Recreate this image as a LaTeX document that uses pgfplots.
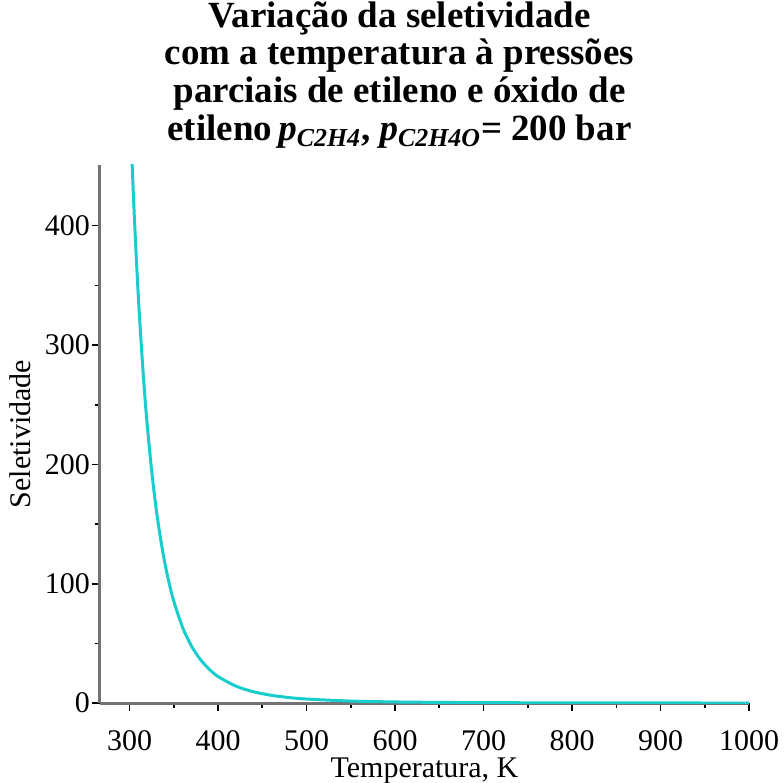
\documentclass[border=0pt]{standalone}
\usepackage{fontspec}
\setmainfont{Liberation Serif}
\usepackage{pgfplots}
\pgfplotsset{compat=1.18}
\definecolor{curve}{RGB}{25,205,205}
\definecolor{axgray}{RGB}{115,115,115}
\begin{document}
\begin{tikzpicture}
\begin{axis}[
    width=325pt, height=269.5pt, scale only axis,
    xmin=266.5, xmax=1000, ymin=0, ymax=451,
    axis x line=bottom, axis y line=left,
    axis line style={-, axgray, line width=1.5pt},
    xtick={300,400,...,1000}, ytick={0,100,...,400},
    minor x tick num=1, minor y tick num=1,
    tick align=outside,
    major tick length=4pt, minor tick length=2.5pt,
    tick style={black, line width=0.8pt},
    /pgf/number format/assume math mode=true,
    /pgf/number format/1000 sep={},
    ticklabel style={font=\fontsize{15}{17}\selectfont},
    xticklabel style={yshift=-6pt},
    yticklabel style={xshift=2.5pt},
    xlabel={Temperatura, K},
    ylabel={Seletividade},
    label style={font=\fontsize{15}{17}\selectfont},
    xlabel style={yshift=3pt},
    clip=true,
]
% selectividade
\addplot[curve, line width=1.5pt, smooth] coordinates {
 (302,469) (305,415) (308,368) (311,327) (314,292) (317,260) (320,233)
 (325,194.8) (330,163.5) (335,138.0) (340,117.0) (345,99.7) (350,85.4)
 (360,63.4) (370,47.8) (380,36.6) (390,28.4) (400,22.3) (420,14.3)
 (440,9.52) (460,6.57) (480,4.68) (500,3.42) (550,1.73) (600,0.98)
 (650,0.605) (700,0.40) (800,0.205) (900,0.122) (1000,0.080)
};
\end{axis}
\node[align=center, anchor=south, font=\fontsize{18.5}{19}\selectfont\bfseries]
  at (150pt,274pt) {Variação da seletividade\\
  com a temperatura à pressões\\
  parciais de etileno e óxido de\\
  etileno\,\textit{p}\textsubscript{\textit{C2H4}}, \textit{p}\textsubscript{\textit{C2H4O}}= 200 bar};
\pgfresetboundingbox
\path (-50pt,-39.5pt) rectangle (342.5pt,352pt);
\end{tikzpicture}
\end{document}
